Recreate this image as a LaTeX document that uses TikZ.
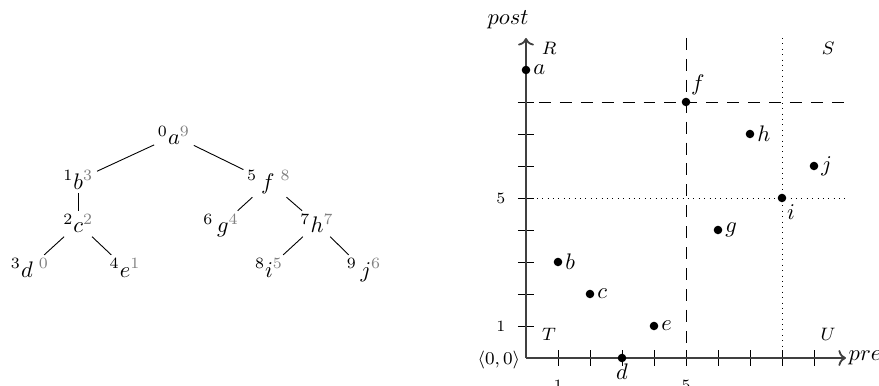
\documentclass[tikz,border=0pt]{standalone}
\usetikzlibrary{arrows.meta}
\begin{document}
\begin{tikzpicture}[x=14.227pt,y=14.227pt,
  tn/.style={anchor=base,inner sep=1.5pt},
  pt/.style={circle,fill=black,inner sep=0pt,minimum size=3.8pt},
  reg/.style={font=\footnotesize},
  tick/.style={font=\scriptsize},
  dashln/.style={dash pattern=on 5.3pt off 4pt},
  axis/.style={black!75,line width=0.8pt}]
\useasboundingbox (-16.4375,-0.875) rectangle (11.03125,11.1875);
\newcommand{\gp}[1]{{\color{gray}#1}}
% tree
\node[tn] (a) at (-11.0,6.66) {${}^{0}a^{\gp{9}}$};
\node[tn] (b) at (-13.99,5.28) {${}^{1}b^{\gp{3}}$};
\node[tn] (f) at (-8.03,5.28) {${}^{5}\,f\;{}^{\gp{8}}$};
\node[tn] (c) at (-13.99,3.91) {${}^{2}c^{\gp{2}}$};
\node[tn] (g) at (-9.53,3.91) {${}^{6}\,g^{\gp{4}}$};
\node[tn] (h) at (-6.53,3.91) {${}^{7}h^{\gp{7}}$};
\node[tn] (d) at (-15.5,2.53) {${}^{3}d\;{}^{\gp{0}}$};
\node[tn] (e) at (-12.53,2.53) {${}^{4}e^{\gp{1}}$};
\node[tn] (i) at (-8.03,2.53) {${}^{8}i^{\gp{5}}$};
\node[tn] (j) at (-5.06,2.53) {${}^{9}\,j^{\gp{6}}$};
\draw (a) -- (b); \draw (a) -- (f);
\draw (b) -- (c);
\draw (f) -- (g); \draw (f) -- (h);
\draw (c) -- (d); \draw (c) -- (e);
\draw (h) -- (i); \draw (h) -- (j);
% plot
\coordinate (O) at (0,0);
\coordinate (xe) at (10,0);
\coordinate (ye) at (0,10);
\draw[dashln] (-0.25,8) -- (10,8);
\draw[dashln] (5,10) -- (5,0);
\draw[dotted] (0,5) -- (10,5);
\draw[dotted] (8,10) -- (8,0);
\foreach \k in {1,...,9} \draw (\k,-0.25) -- (\k,0.25);
\foreach \k in {1,...,8} \draw (-0.25,\k) -- (0.25,\k);
\draw[axis,->] (O) -- (xe);
\draw[axis,->] (O) -- (ye);
\node[anchor=west,inner sep=1pt] (prel) at (xe) {$pre$};
\node[anchor=south,inner sep=1pt] (postl) at (-0.56,10.2) {$post$};
\node[anchor=east,font=\footnotesize,inner sep=1pt] (orl) at (-0.1,-0.05) {$\langle 0,0\rangle$};
\node[tick,anchor=north] (x1) at (1,-0.45) {1};
\node[tick,anchor=north] (x5) at (5,-0.45) {5};
\node[tick,anchor=east] (y1) at (-0.4,1) {1};
\node[tick,anchor=east] (y5) at (-0.4,5) {5};
\node[reg] (R) at (0.72,9.69) {$R$};
\node[reg] (S) at (9.44,9.69) {$S$};
\node[reg] (T) at (0.72,0.75) {$T$};
\node[reg] (U) at (9.44,0.75) {$U$};
\node[pt,label={[inner sep=1pt]right:$a$}] (pa) at (0,9) {};
\node[pt,label={[inner sep=1pt]60:$f$}] (pf) at (5,8) {};
\node[pt,label={[inner sep=1pt]right:$h$}] (ph) at (7,7) {};
\node[pt,label={[inner sep=1pt]right:$j$}] (pj) at (9,6) {};
\node[pt,label={[inner sep=1pt]-60:$i$}] (pi) at (8,5) {};
\node[pt,label={[inner sep=1pt]right:$g$}] (pg) at (6,4) {};
\node[pt,label={[inner sep=1pt]right:$b$}] (pb) at (1,3) {};
\node[pt,label={[inner sep=1pt]right:$c$}] (pc) at (2,2) {};
\node[pt,label={[inner sep=1pt]right:$e$}] (pe) at (4,1) {};
\node[pt,label={[inner sep=0.5pt]below:$d$}] (pd) at (3,0) {};
\end{tikzpicture}
\end{document}
